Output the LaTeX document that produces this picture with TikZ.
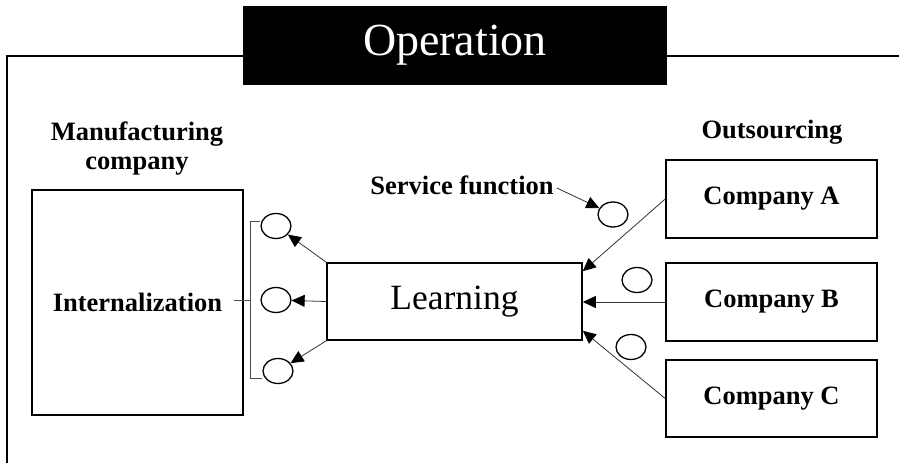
\documentclass[tikz,border=0pt]{standalone}
\usepackage{fontspec}
\setmainfont{Liberation Serif}
\usetikzlibrary{calc}
\usetikzlibrary{arrows.meta}
\usetikzlibrary{shapes.geometric}

\tikzset{
  labeltext/.style={font=\bfseries\fontsize{26.5}{29}\selectfont, inner sep=0pt},
  unitbox/.style={draw, line width=1.6pt, minimum width=211pt, inner sep=0pt,
    font=\bfseries\fontsize{26.5}{29}\selectfont},
  knowledge/.style={draw, ellipse, line width=1.3pt, minimum width=30pt, minimum height=25pt, inner sep=0pt},
  flow/.style={line width=0.8pt, black!80, arrows={-Triangle[length=13pt, width=12pt, black]}},
  bracket/.style={line width=0.8pt, black!70}
}

\begin{document}
\begin{tikzpicture}[x=1pt, y=-1pt]
\useasboundingbox (0,0) rectangle (899,463);

% FRAME
\draw[line width=1.4pt] (899,56) -- (7,56) -- (7,463);
\node[fill=black, text=white, minimum width=424pt, minimum height=79pt, inner sep=0pt,
  font=\fontsize{46}{50}\selectfont] (title) at (455,45.5) {Operation};

% MANUFACTURING COMPANY
\node[labeltext, align=center] (mfglabel) at (137,149) {Manufacturing\\company};
\node[unitbox, minimum height=225pt] (intern) at (137.5,302.5) {Internalization};

% LEARNING
\node[draw, line width=1.6pt, minimum width=255pt, minimum height=77pt, inner sep=0pt,
  font=\fontsize{35.5}{40}\selectfont] (learn) at (454.5,301.5) {Learning};

% OUTSOURCING
\node[labeltext] (outlabel) at (772,132) {Outsourcing};
\node[unitbox, minimum height=78pt] (compA) at (771.5,199) {Company A};
\node[unitbox, minimum height=78pt] (compB) at (771.5,302) {Company B};
\node[unitbox, minimum height=77pt] (compC) at (771.5,398.5) {Company C};

% knowledge units
\node[knowledge] (k1) at (276,226) {};
\node[knowledge] (k2) at (276,300) {};
\node[knowledge] (k3) at (278,371) {};
\node[knowledge] (sf) at (613,214.5) {};
\node[knowledge] (kB) at (637,280) {};
\node[knowledge] (kC) at (631,347) {};

% service function
\node[labeltext] (sflabel) at (462,185) {Service function};
\draw[flow] ($(sflabel.east)+(3,3)$) -- (sf);

% learning -> internalization
\draw[flow] (learn.north west) -- (k1);
\draw[flow] (learn.west) -- (k2);
\draw[flow] (learn.south west) -- (k3);

% companies -> learning
\draw[flow] (compA.west) -- ($(learn.north east)+(0,9)$);
\draw[flow] (compB.west) -- (learn.east |- compB.west);
\draw[flow] (compC.west) -- ($(learn.south east)+(0,-10)$);

% bracket
\coordinate (brtop) at (250,221);
\coordinate (brbot) at (250,378);
\coordinate (brmid) at (250,300);
\draw[bracket] (k1.west |- brtop) -- (brtop) -- (brbot) -- (k3.west |- brbot);
\draw[bracket] (234,300) -- (brmid);

\end{tikzpicture}
\end{document}
